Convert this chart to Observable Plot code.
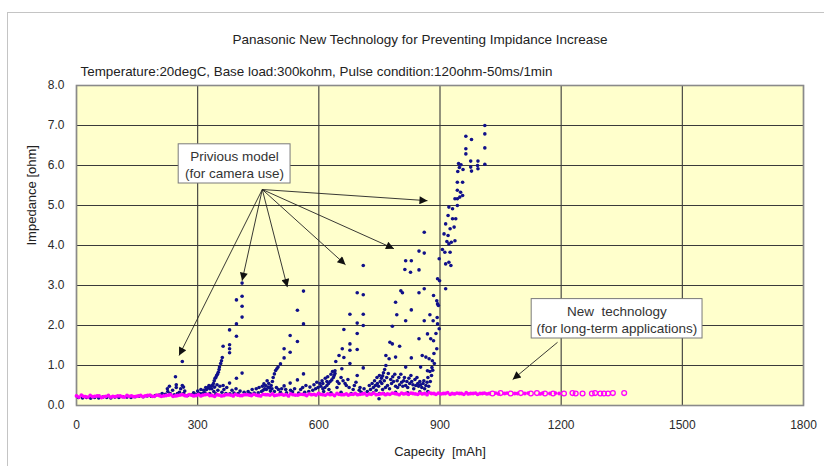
<!DOCTYPE html>
<html>
<head>
<meta charset="utf-8">
<script src="https://cdn.jsdelivr.net/npm/d3@7"></script>
<script src="https://cdn.jsdelivr.net/npm/@observablehq/plot@0.6"></script>
<style>
  html, body { margin: 0; padding: 0; background: #fff; overflow: hidden; }
  #wrap { position: relative; width: 824px; height: 466px; overflow: hidden; }
  #border { position: absolute; left: 7px; top: 12px; width: 840px; height: 480px; border: 1px solid #c4c4c4; box-sizing: border-box; pointer-events: none; }
  #chart { position: absolute; left: 0; top: 0; }
</style>
</head>
<body>
<div id="wrap"><div id="border"></div><div id="chart"></div></div>
<script>
// ---- Text ----
const titleText = "Panasonic New Technology for Preventing Impidance Increase";
const subtitleText = "Temperature:20degC, Base load:300kohm, Pulse condition:120ohm-50ms/1min";
const xLabel = "Capecity\u00a0\u00a0[mAh]";
const yLabel = "Impedance [ohm]";

// ---- Ticks ----
const xTicks = [0, 300, 600, 900, 1200, 1500, 1800];
const yTicks = [0, 1, 2, 3, 4, 5, 6, 7, 8];

// ---- Previous model (for camera use): [capacity mAh, impedance ohm] ----
const prevBase = [[5,0.2],[15,0.19],[25,0.2],[35,0.18],[45,0.2],[55,0.19],[65,0.21],[75,0.2],[85,0.19],[95,0.21],[105,0.2],[115,0.22],[125,0.21],[135,0.2],[145,0.22],[155,0.23],[165,0.22],[175,0.24],[185,0.23],[195,0.25],[205,0.26],[212,0.3],[220,0.28],[226,0.35],[232,0.3],[238,0.38],[242,0.27],[247,0.45],[250,0.3],[255,0.33],[258,0.42],[262,0.5],[265,0.3],[268,0.36]];
const prevRunA = [[245,0.72],[262,1.1],[225,0.42],[230,0.48],[265,0.46],[247,0.52]];
const prevRunB = [[275,0.25],[285,0.27],[295,0.28],[305,0.3],[312,0.3],[318,0.32],[322,0.4],[326,0.45],[330,0.42],[333,0.48],[336,0.5],[339,0.55],[341,0.62],[343,0.68],[345,0.7],[347,0.75],[349,0.78],[351,0.83],[353,0.9],[354,0.96],[357,1.05],[359,1.12],[361,1.2],[363,1.48],[379,1.52],[379,1.42],[379,1.32],[379,1.89],[396,1.73],[396,2.04],[410,2.21],[410,2.48],[396,2.64],[410,2.73],[410,3.06],[363,0.5],[379,0.56],[396,0.68],[410,0.81],[340,0.35],[350,0.38],[360,0.33],[370,0.3],[380,0.29],[390,0.31],[400,0.3],[330,0.3],[345,0.29],[290,0.32],[300,0.36],[308,0.4],[315,0.38],[320,0.45],[328,0.5],[335,0.42],[342,0.46],[348,0.52],[355,0.48],[365,0.4],[372,0.45],[385,0.38],[395,0.42],[405,0.36],[415,0.33]];
const prevRunC = [[420,0.28],[430,0.3],[440,0.31],[450,0.32],[458,0.35],[462,0.38],[466,0.42],[470,0.4],[474,0.46],[478,0.44],[482,0.5],[485,0.6],[487,0.7],[490,0.79],[493,0.875],[496,0.92],[499,0.96],[505,1.04],[514,1.19],[514,1.42],[529,1.33],[529,1.75],[547,1.6],[547,2.38],[562,2.04],[562,2.86],[464,0.54],[472,0.62],[514,0.49],[529,0.56],[547,0.64],[562,0.79],[490,0.35],[505,0.33],[520,0.32],[535,0.34],[550,0.31],[565,0.33],[500,0.4],[480,0.36],[425,0.35],[435,0.4],[445,0.42],[452,0.45],[460,0.48],[468,0.5],[476,0.55],[484,0.42],[495,0.45],[508,0.42],[518,0.4],[530,0.38],[540,0.42],[555,0.4]];
const prevRunD = [[575,0.35],[585,0.38],[592,0.42],[598,0.45],[605,0.48],[610,0.42],[615,0.45],[620,0.5],[624,0.55],[628,0.6],[632,0.64],[636,0.7],[638,0.75],[640,0.8],[640,0.87],[642,1.1],[650,1.25],[657,0.92],[658,1.42],[662,1.2],[662,1.9],[677,1.05],[677,1.38],[677,1.54],[677,2.28],[695,1.4],[695,1.8],[695,2.06],[695,2.82],[695,0.75],[710,0.94],[710,2.0],[710,2.28],[710,2.77],[710,3.5],[612,0.35],[625,0.4],[645,0.45],[650,0.55],[660,0.62],[668,0.5],[675,0.45],[685,0.4],[700,0.38],[600,0.3],[630,0.32],[655,0.33],[680,0.3],[705,0.33],[620,0.6],[610,0.55],[560,0.45],[568,0.5],[578,0.46],[588,0.52],[595,0.58],[603,0.55],[608,0.62],[616,0.68],[622,0.72],[630,0.78],[634,0.85],[646,0.6],[655,0.7],[665,0.55],[672,0.65],[688,0.5],[692,0.58],[702,0.45],[712,0.42]];
const prevRunE = [[720,0.35],[728,0.4],[735,0.45],[740,0.5],[745,0.55],[748,0.48],[752,0.6],[755,0.68],[758,0.74],[760,0.82],[763,0.9],[766,1.25],[766,1.0],[774,1.17],[776,1.58],[782,1.54],[782,1.98],[790,1.21],[790,2.58],[793,2.27],[800,1.48],[803,2.87],[807,2.82],[813,3.4],[815,0.96],[815,2.12],[815,3.62],[827,3.33],[829,3.62],[829,2.39],[829,1.19],[848,3.86],[848,3.39],[848,2.82],[848,1.67],[852,0.96],[856,1.25],[861,4.33],[861,3.81],[861,2.92],[861,2.12],[865,1.21],[869,1.79],[869,0.87],[873,1.17],[875,2.27],[877,1.67],[881,1.12],[883,2.12],[884,2.75],[884,1.62],[892,2.62],[892,1.42],[894,2.54],[894,2.04],[896,2.5],[898,1.92],[898,3.67],[894,3.17],[899,3.12],[914,2.92],[735,0.32],[742,0.38],[750,0.3],[749,0.17],[758,0.4],[765,0.45],[770,0.5],[775,0.42],[780,0.55],[785,0.6],[790,0.48],[795,0.45],[800,0.52],[805,0.58],[810,0.62],[815,0.5],[820,0.45],[825,0.55],[830,0.6],[835,0.42],[840,0.5],[845,0.55],[850,0.6],[855,0.45],[860,0.62],[865,0.5],[870,0.35],[760,0.3],[790,0.33],[820,0.32],[850,0.34],[870,0.7],[875,0.85],[880,0.95],[885,1.3],[890,1.8],[893,2.2],[886,1.05],[725,0.5],[732,0.55],[738,0.62],[744,0.7],[750,0.75],[756,0.55],[762,0.62],[768,0.7],[772,0.8],[778,0.65],[783,0.72],[788,0.78],[794,0.62],[798,0.7],[803,0.78],[808,0.48],[812,0.7],[818,0.6],[823,0.68],[828,0.75],[833,0.52],[838,0.65],[843,0.7],[847,0.48],[852,0.52],[858,0.55],[862,0.42],[868,0.58],[872,0.48],[876,0.6],[879,0.75],[882,0.88]];
const prevRunF = [[910,4.29],[912,3.83],[914,3.54],[914,4.54],[920,4.25],[920,4.75],[922,3.58],[922,4.04],[922,4.96],[925,3.83],[925,4.42],[927,3.5],[928,4.08],[931,4.92],[931,4.67],[935,4.46],[937,4.12],[937,5.17],[939,4.67],[943,5.0],[943,5.17],[943,5.38],[943,5.58],[944,5.85],[949,5.21],[951,5.33],[956,5.25],[956,5.58],[948,5.95],[952,6.02],[957,5.9],[946,6.05],[964,6.29],[964,6.42],[964,6.73],[976,5.96],[976,6.11],[978,5.86],[978,6.65],[993,6.0],[994,5.92],[994,6.11],[1011,6.03],[1011,6.44],[1011,6.79],[1011,7.0],[906,3.9],[917,4.1]];

// ---- New technology (for long-term applications) ----
const newTech = [[0,0.24],[12,0.26],[22,0.22],[34,0.25],[45,0.23],[56,0.24],[68,0.22],[79,0.25],[90,0.23],[102,0.24],[113,0.22],[125,0.25],[136,0.24],[148,0.23],[159,0.25],[170,0.24],[182,0.26],[193,0.23],[205,0.25],[216,0.24],[228,0.26],[239,0.23],[250,0.25],[262,0.27],[273,0.24],[285,0.26],[296,0.25],[308,0.24],[319,0.27],[330,0.25],[342,0.23],[353,0.26],[365,0.25],[376,0.27],[388,0.24],[399,0.26],[410,0.25],[422,0.27],[433,0.25],[445,0.26],[456,0.24],[468,0.27],[479,0.26],[490,0.25],[502,0.27],[513,0.26],[525,0.24],[536,0.27],[548,0.26],[559,0.28],[570,0.25],[582,0.27],[593,0.26],[605,0.28],[616,0.26],[628,0.27],[639,0.25],[650,0.28],[662,0.27],[673,0.26],[685,0.28],[696,0.27],[708,0.29],[719,0.26],[730,0.28],[742,0.27],[753,0.29],[765,0.27],[776,0.28],[788,0.3],[799,0.27],[810,0.29],[822,0.28],[833,0.3],[845,0.28],[856,0.29],[868,0.27],[879,0.3],[890,0.28],[902,0.29],[913,0.3],[925,0.28],[936,0.29],[948,0.3],[959,0.28],[970,0.29],[982,0.3],[993,0.28],[1005,0.3],[1016,0.29],[1045,0.29],[1060,0.3],[1085,0.3],[1110,0.3],[1148,0.29],[1172,0.3],[1195,0.3]];
const newTechB = [[6,0.21],[17,0.23],[28,0.21],[40,0.22],[51,0.24],[62,0.2],[73,0.23],[85,0.21],[96,0.22],[108,0.24],[119,0.21],[130,0.23],[142,0.22],[153,0.24],[165,0.22],[176,0.25],[188,0.23],[199,0.26],[210,0.23],[222,0.25],[233,0.27],[245,0.24],[256,0.26],[268,0.25],[279,0.27],[290,0.24],[302,0.27],[313,0.26],[325,0.28],[336,0.25],[348,0.27],[359,0.24],[370,0.27],[382,0.26],[393,0.28],[405,0.25],[416,0.27],[428,0.26],[439,0.28],[450,0.25],[462,0.28],[473,0.27],[485,0.29],[496,0.26],[508,0.28],[519,0.27],[530,0.29],[542,0.26],[553,0.28],[565,0.27],[576,0.29],[588,0.28],[599,0.3],[610,0.27],[622,0.29],[633,0.28],[645,0.3],[656,0.27],[668,0.29],[679,0.28],[690,0.3],[702,0.28],[713,0.3],[725,0.29],[736,0.31],[748,0.28],[759,0.3],[770,0.29],[782,0.31],[793,0.29],[805,0.31],[816,0.3],[828,0.31],[839,0.29],[850,0.31],[862,0.3],[873,0.32],[885,0.3],[896,0.31],[908,0.3],[919,0.32],[930,0.3],[942,0.31],[953,0.3],[965,0.32],[976,0.3],[988,0.31],[999,0.3],[1010,0.31],[1022,0.3],[1038,0.31],[1066,0.31],[1092,0.3],[1118,0.31],[1154,0.31],[1186,0.31]];
const newTechRings = [[1030,0.3],[1050,0.31],[1075,0.3],[1100,0.31],[1125,0.3],[1140,0.31],[1160,0.3],[1180,0.3],[1207,0.3],[1228,0.31],[1236,0.3],[1253,0.3],[1276,0.3],[1284,0.31],[1297,0.3],[1306,0.3],[1316,0.3],[1328,0.31],[1356,0.31]];

// ---- Annotations (in data units) ----
const noteBoxes = [
  {x1: 253, x2: 530, y1: 5.55, y2: 6.53, cx: 391, cy: 6.04, text: "Privious model\n(for camera use)"},
  {x1: 1127, x2: 1550, y1: 1.675, y2: 2.66, cx: 1338, cy: 2.17, text: "New\u00a0\u00a0technology\n(for long-term applications)"}
];
const noteArrows = [
  {x1: 460, y1: 5.4, x2: 254, y2: 1.25},
  {x1: 460, y1: 5.4, x2: 410, y2: 3.12},
  {x1: 460, y1: 5.4, x2: 522, y2: 2.96},
  {x1: 460, y1: 5.4, x2: 666, y2: 3.52},
  {x1: 460, y1: 5.4, x2: 786, y2: 3.92},
  {x1: 460, y1: 5.4, x2: 869, y2: 5.12},
  {x1: 1191, y1: 1.58, x2: 1080, y2: 0.65}
];

const prevAll = [...prevBase, ...prevRunA, ...prevRunB, ...prevRunC, ...prevRunD, ...prevRunE, ...prevRunF];
const newAll = [...newTech, ...newTechB];

function headMarker(color, context) {
  const ns = "http://www.w3.org/2000/svg";
  const doc = context && context.document ? context.document : document;
  const m = doc.createElementNS(ns, "marker");
  m.setAttribute("viewBox", "0 0 10 10");
  m.setAttribute("refX", "10");
  m.setAttribute("refY", "5");
  m.setAttribute("markerWidth", "11");
  m.setAttribute("markerHeight", "8");
  m.setAttribute("markerUnits", "userSpaceOnUse");
  m.setAttribute("orient", "auto");
  const p = doc.createElementNS(ns, "path");
  p.setAttribute("d", "M0,0L10,5L0,10Z");
  p.setAttribute("fill", "#111");
  p.setAttribute("stroke", "none");
  m.appendChild(p);
  return m;
}

function build(marker) {
  return Plot.plot({
    width: 824,
    height: 466,
    marginLeft: 76,
    marginRight: 21,
    marginTop: 85,
    marginBottom: 61,
    style: {fontFamily: "'Liberation Sans', Arial, sans-serif", fontSize: "12px", background: "transparent", color: "#2a2a2a", overflow: "visible"},
    x: {domain: [0, 1800], ticks: xTicks, tickFormat: d => String(d), tickSize: 0, tickPadding: 15, label: null},
    y: {domain: [0, 8], ticks: yTicks, tickFormat: d3.format(".1f"), tickSize: 0, tickPadding: 12, label: null},
    marks: [
      Plot.frame({fill: "#FFFFCC", stroke: "none"}),
      Plot.gridX(xTicks, {stroke: "#3a3a3a", strokeOpacity: 1, strokeWidth: 1.1}),
      Plot.gridY(yTicks, {stroke: "#3a3a3a", strokeOpacity: 1, strokeWidth: 1.1}),
      Plot.frame({stroke: "#8a8a8a", strokeWidth: 1.6}),
      Plot.dot(prevAll, {x: d => d[0], y: d => d[1], r: 1.8, fill: "#10108a", stroke: "none"}),
      Plot.dot(newAll, {x: d => d[0], y: d => d[1], r: 1.9, fill: "#ff00ff", stroke: "none"}),
      Plot.dot(newTechRings, {x: d => d[0], y: d => d[1], r: 2.4, fill: "none", stroke: "#ff00ff", strokeWidth: 1.3}),
      Plot.link(noteArrows, {x1: "x1", y1: "y1", x2: "x2", y2: "y2", stroke: "#222", strokeWidth: 0.9, markerEnd: marker}),
      Plot.rect(noteBoxes, {x1: "x1", x2: "x2", y1: "y1", y2: "y2", fill: "#fff", stroke: "#7a7a7a", strokeWidth: 1}),
      Plot.text(noteBoxes, {x: "cx", y: "cy", text: "text", fill: "#333", fontSize: 13.5, lineHeight: 1.25}),
      Plot.text([titleText], {text: d => d, frameAnchor: "top", dx: -20, dy: -51, fontSize: 13.5, fill: "#222"}),
      Plot.text([subtitleText], {text: d => d, frameAnchor: "top-left", dx: 4, dy: -19, textAnchor: "start", fontSize: 13.4, fill: "#222"}),
      Plot.text([xLabel], {text: d => d, frameAnchor: "bottom", dy: 50, fontSize: 13, fill: "#222"}),
      Plot.text([yLabel], {text: d => d, frameAnchor: "left", dx: -45, rotate: -90, fontSize: 13, fill: "#222"})
    ]
  });
}

let chart;
try {
  chart = build(headMarker);
} catch (e) {
  chart = build("arrow");
}
document.getElementById("chart").appendChild(chart);
</script>
</body>
</html>
